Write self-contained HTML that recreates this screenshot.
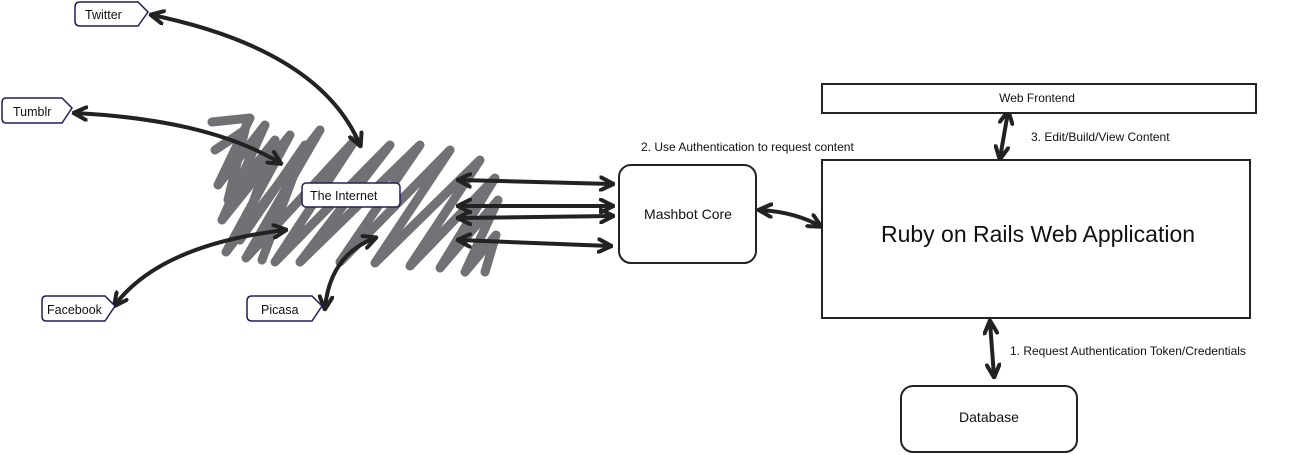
<!DOCTYPE html>
<html><head><style>
html,body{margin:0;padding:0;background:#fff;}
svg{display:block;font-family:"Liberation Sans",sans-serif;}
</style></head><body>
<svg width="1299" height="455" viewBox="0 0 1299 455" xmlns="http://www.w3.org/2000/svg">
<defs>
<marker id="a" viewBox="0 0 10 10" refX="8" refY="5" markerWidth="4" markerHeight="4" orient="auto-start-reverse">
<path d="M1,1 L9,5 L1,9" fill="none" stroke="#222" stroke-width="2.5" stroke-linecap="round" stroke-linejoin="round"/>
</marker>
</defs>
<!-- scribble -->
<g fill="none" stroke="#66666a" stroke-width="9" stroke-linecap="round" stroke-linejoin="round" opacity="0.92">
<polyline points="212,122 250,118 218,185 265,125 222,220 290,135 226,252 320,130 246,258 355,140 275,262 390,145 300,262 420,145 340,262 450,150 375,263 480,160 410,266 495,178 440,268 498,200 465,272 496,235 485,272"/>
<polyline points="215,150 245,130 228,200 275,140 240,240 305,145 262,260"/>
</g>
<!-- connectors -->
<g fill="none" stroke="#222" stroke-width="4" stroke-linecap="round" marker-start="url(#a)" marker-end="url(#a)">
<path d="M152,15 Q320,50 360,145"/>
<path d="M75,113 Q210,120 280,163"/>
<path d="M115,305 Q160,245 285,230"/>
<path d="M325,308 Q330,255 375,238"/>
<path d="M459,180 L612,184"/>
<path d="M459,206 L612,206"/>
<path d="M459,218 L612,216"/>
<path d="M459,240 L610,246"/>
<path d="M760,210 Q795,212 820,226"/>
<path d="M1008,112 L1000,158"/>
<path d="M990,322 L994,376"/>
</g>
<!-- tags -->
<g fill="#fff" stroke="#2a1a55" stroke-width="1.5">
<path d="M80,2 H138 L148,12 L138,26 H80 Q75,26 75,21 V7 Q75,2 80,2Z"/>
<path d="M6,98 H62 L72,108 L62,123 H6 Q2,123 2,118 V103 Q2,98 6,98Z"/>
<path d="M46,296 H105 L115,306 L105,321 H46 Q42,321 42,316 V301 Q42,296 46,296Z"/>
<path d="M252,296 H312 L322,306 L312,321 H252 Q247,321 247,316 V301 Q247,296 252,296Z"/>
<rect x="302" y="183" width="98" height="24" rx="4"/>
</g>
<g font-size="12.5" fill="#111">
<text x="85" y="19">Twitter</text>
<text x="13" y="116">Tumblr</text>
<text x="47" y="314">Facebook</text>
<text x="261" y="314">Picasa</text>
<text x="310" y="200">The Internet</text>
</g>
<!-- boxes -->
<g fill="#fff" stroke="#222" stroke-width="2">
<rect x="619" y="165" width="137" height="98" rx="12"/>
<rect x="822" y="160" width="428" height="158"/>
<rect x="822" y="84" width="434" height="29"/>
<rect x="901" y="386" width="176" height="66" rx="12"/>
</g>
<g fill="#111" text-anchor="middle">
<text x="688" y="219" font-size="14">Mashbot Core</text>
<text x="1038" y="242" font-size="23">Ruby on Rails Web Application</text>
<text x="1037" y="102" font-size="12">Web Frontend</text>
<text x="989" y="422" font-size="14">Database</text>
</g>
<g fill="#111" font-size="12">
<text x="641" y="151">2. Use Authentication to request content</text>
<text x="1031" y="141">3. Edit/Build/View Content</text>
<text x="1010" y="355">1. Request Authentication Token/Credentials</text>
</g>
</svg>
</body></html>
